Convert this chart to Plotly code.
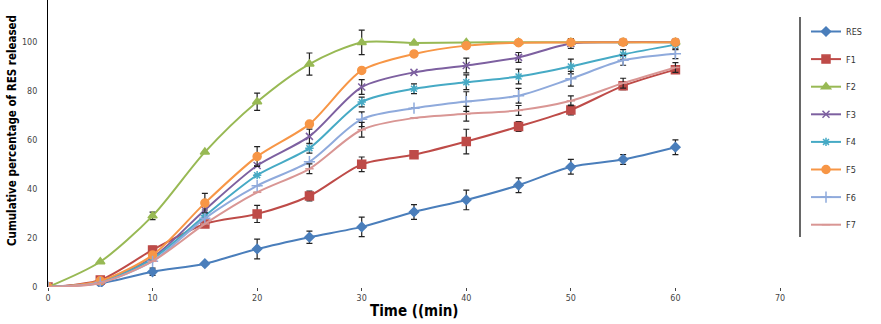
import plotly.graph_objects as go

time_min = [0, 5, 10, 15, 20, 25, 30, 35, 40, 45, 50, 55, 60]

RES = [0, 1.5, 6.2, 9.5, 15.5, 20.3, 24.5, 30.6, 35.5, 41.5, 49, 52, 57]
F1 = [0, 2.9, 15.1, 25.7, 29.8, 37.1, 50, 53.9, 59.3, 65.4, 72.2, 82, 88.6]
F2 = [0, 10.3, 29, 55, 75.5, 90.9, 99.7, 99.5, 99.7, 99.8, 99.8, 99.8, 99.8]
F3 = [0, 2.2, 12, 31.4, 49.5, 61.4, 81.5, 87.5, 90.3, 93.6, 99.3, 99.8, 99.8]
F4 = [0, 2.1, 11.5, 29, 45.6, 56.6, 75.4, 80.8, 83.5, 85.8, 89.9, 94.8, 98.8]
F5 = [0, 2.5, 13, 34.2, 53.2, 66.4, 88.3, 95, 98.4, 99.6, 99.7, 99.8, 99.8]
F6 = [0, 1.8, 10.5, 28, 41.3, 51.1, 68.4, 72.9, 75.6, 78, 84.9, 92.4, 95.1]
F7 = [0, 1.6, 10.5, 25.7, 38.6, 48.2, 64.1, 68.9, 70.6, 72, 75.9, 83.1, 89.5]

err_RES = [0, 0, 1.5, 0, 4, 2.5, 4, 3, 4, 3, 3, 2, 3]
err_F1 = [0, 0, 1.5, 0, 3.5, 2, 3, 0, 5, 2, 2, 1.5, 1.5]
err_F2 = [0, 0, 1.5, 0, 3.5, 4.5, 5, 0, 0, 0, 0, 0, 0]
err_F3 = [0, 0, 0, 0, 0, 3, 3, 0, 3, 2, 2, 0, 0]
err_F4 = [0, 0, 0, 0, 0, 2, 2, 2, 3, 3, 3, 2, 2]
err_F5 = [0, 0, 0, 4, 4, 0, 0, 0, 0, 0, 0, 0, 0]
err_F6 = [0, 0, 0, 0, 0, 0, 3, 0, 4, 3, 3, 2, 2]
err_F7 = [0, 0, 0, 0, 0, 2, 3, 0, 3, 2, 2, 2, 2]

names = ["RES", "F1", "F2", "F3", "F4", "F5", "F6", "F7"]
series = [RES, F1, F2, F3, F4, F5, F6, F7]
errors = [err_RES, err_F1, err_F2, err_F3, err_F4, err_F5, err_F6, err_F7]
colors = ["#4A7EBB", "#BE4B48", "#98B954", "#7D60A0", "#46AAC5", "#F79646", "#8FAADC", "#D99694"]
symbols = ["diamond", "square", "triangle-up", "x-thin-open", "asterisk-open", "circle", "cross-thin-open", "line-ew-open"]
sizes = [7, 8, 8, 7, 7, 8, 8, 6]

fig = go.Figure()
for i, (n, ys, es, c, s, sz) in enumerate(zip(names, series, errors, colors, symbols, sizes)):
    fig.add_trace(go.Scatter(
        x=time_min, y=ys, name=n, mode="lines+markers",
        line=dict(color=c, width=2, shape="spline", smoothing=0.8),
        marker=dict(symbol=s, size=sz, color=c, line=dict(color=c, width=1.5)),
        error_y=dict(type="data", array=es, visible=True, color="#222222", thickness=1.2, width=3),
        legendgroup=n,
    ))

fig.add_shape(type="line", xref="paper", yref="paper",
              x0=(800 - 48) / 732, x1=(800 - 48) / 732,
              y0=(287 - 237) / 287, y1=(287 - 17) / 287,
              line=dict(color="black", width=1.2))

fig.add_annotation(text="<b>Cumulative percentage of RES released</b>", textangle=-90,
                   xref="paper", yref="paper", x=(12 - 48) / 732, y=(287 - 131) / 287,
                   xanchor="center", yanchor="middle", showarrow=False,
                   font=dict(family="Liberation Sans Narrow, DejaVu Sans Condensed, Arial", size=11.5, color="black"))
fig.add_annotation(text="<b>Time ((min)</b>",
                   xref="paper", yref="paper", x=(415 - 48) / 732, y=(287 - 311) / 287,
                   xanchor="center", yanchor="middle", showarrow=False,
                   font=dict(family="Liberation Sans Narrow, DejaVu Sans Condensed, Arial", size=15, color="black"))

fig.update_layout(
    width=881, height=324,
    margin=dict(l=48, r=101, t=0, b=37),
    plot_bgcolor="white", paper_bgcolor="white",
    showlegend=True,
    legend=dict(x=(806 - 48) / 732, y=(287 - 17) / 287, xanchor="left", yanchor="top",
                font=dict(family="DejaVu Sans Condensed, Arial", size=9, color="#333"),
                tracegroupgap=8.6, itemwidth=30, bgcolor="rgba(0,0,0,0)"),
    xaxis=dict(range=[0, 70], tickmode="array", tickvals=[0, 10, 20, 30, 40, 50, 60, 70],
               showline=False, showgrid=False, zeroline=False, ticks="outside", ticklen=3,
               tickcolor="#444", tickfont=dict(family="DejaVu Sans", size=8, color="#444")),
    yaxis=dict(range=[0, 117], tickmode="array", tickvals=[0, 20, 40, 60, 80, 100],
               showline=True, linecolor="black", linewidth=1.2, showgrid=False, zeroline=False,
               ticks="", ticklabelstandoff=8,
               tickfont=dict(family="DejaVu Sans", size=8, color="#444")),
)

fig.write_html("out.html")
